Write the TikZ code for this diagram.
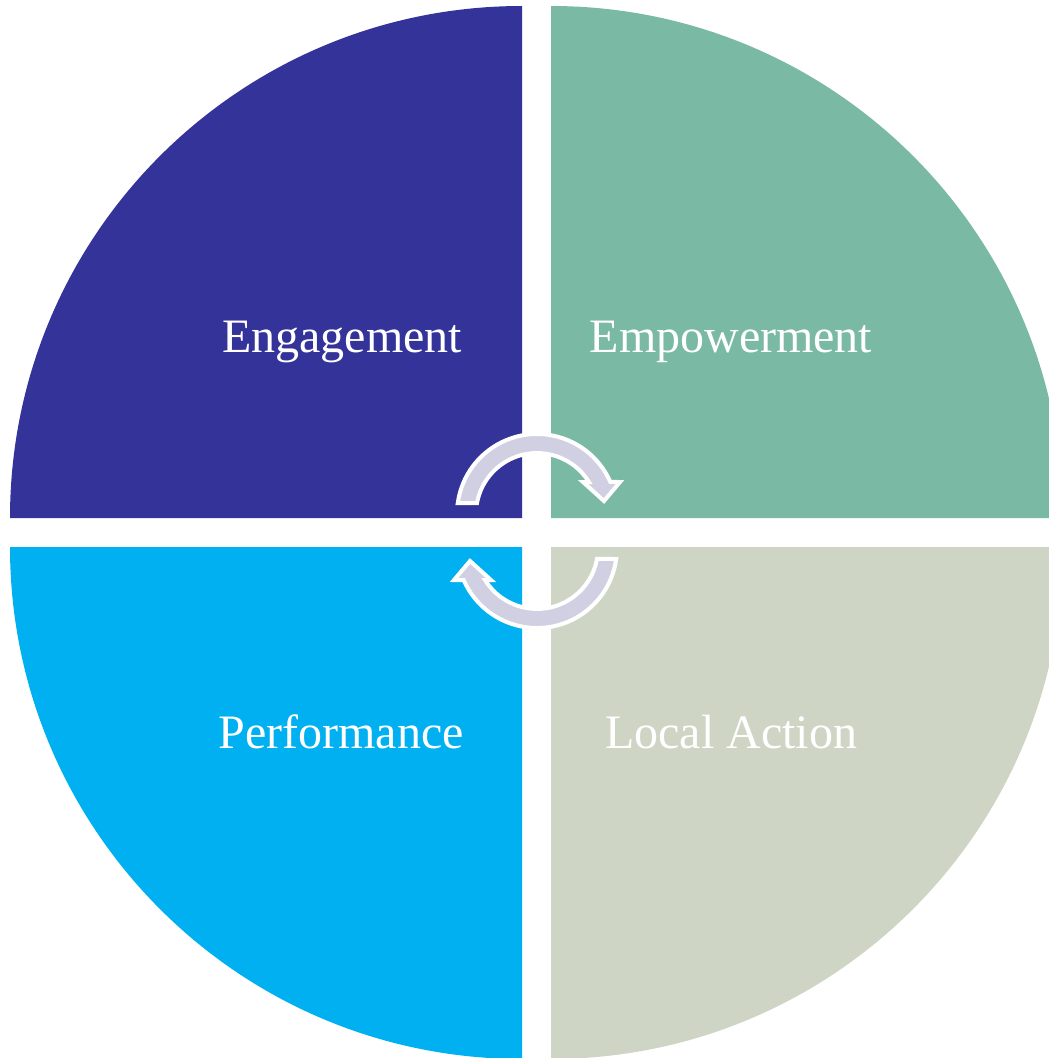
\documentclass[tikz,border=0pt]{standalone}
\usepackage{fontspec}
\setmainfont{Liberation Serif}
\definecolor{qnavy}{RGB}{52,51,153}
\definecolor{qgreen}{RGB}{122,185,164}
\definecolor{qcyan}{RGB}{0,176,240}
\definecolor{qsage}{RGB}{207,213,197}
\definecolor{arrowfill}{RGB}{208,208,226}
\begin{document}
\begin{tikzpicture}[x=1pt,y=-1pt,
  lbl/.style={text=white,font=\fontsize{48}{58}\selectfont,anchor=center,inner sep=0pt},
  cyc/.style={fill=arrowfill,draw=white,line width=4pt,line join=miter}]
\useasboundingbox (0,0) rectangle (1049,1058);
\clip (0,0) rectangle (1049,1058);
% quadrants
\fill[qnavy] (522,518) -- ++(-512,0) arc[start angle=180,end angle=270,radius=512] -- cycle;
\fill[qgreen] (551,518) -- ++(0,-512) arc[start angle=270,end angle=360,radius=512] -- cycle;
\fill[qsage] (551,547) -- ++(512,0) arc[start angle=0,end angle=90,radius=512] -- cycle;
\fill[qcyan] (522,547) -- ++(0,512) arc[start angle=90,end angle=180,radius=512] -- cycle;
% labels
\node[lbl] (eng) at (342,342) {Engagement};
\node[lbl] (emp) at (731,342) {Empowerment};
\node[lbl] (perf) at (341,732) {Performance};
\node[lbl] (loc) at (731,732) {Local Action};
% cycle arrows
\draw[cyc] (457.8,503) arc[start angle=187.9,end angle=336.4,radius=80]
  -- (620,482) -- (604,501) -- (583,482) -- (588.9,482)
  arc[start angle=328.3,end angle=190.4,radius=61] -- cycle;
\begin{scope}[rotate around={180:(537,531)}]
\draw[cyc] (457.8,503) arc[start angle=187.9,end angle=336.4,radius=80]
  -- (620,482) -- (604,501) -- (583,482) -- (588.9,482)
  arc[start angle=328.3,end angle=190.4,radius=61] -- cycle;
\end{scope}
\end{tikzpicture}
\end{document}
